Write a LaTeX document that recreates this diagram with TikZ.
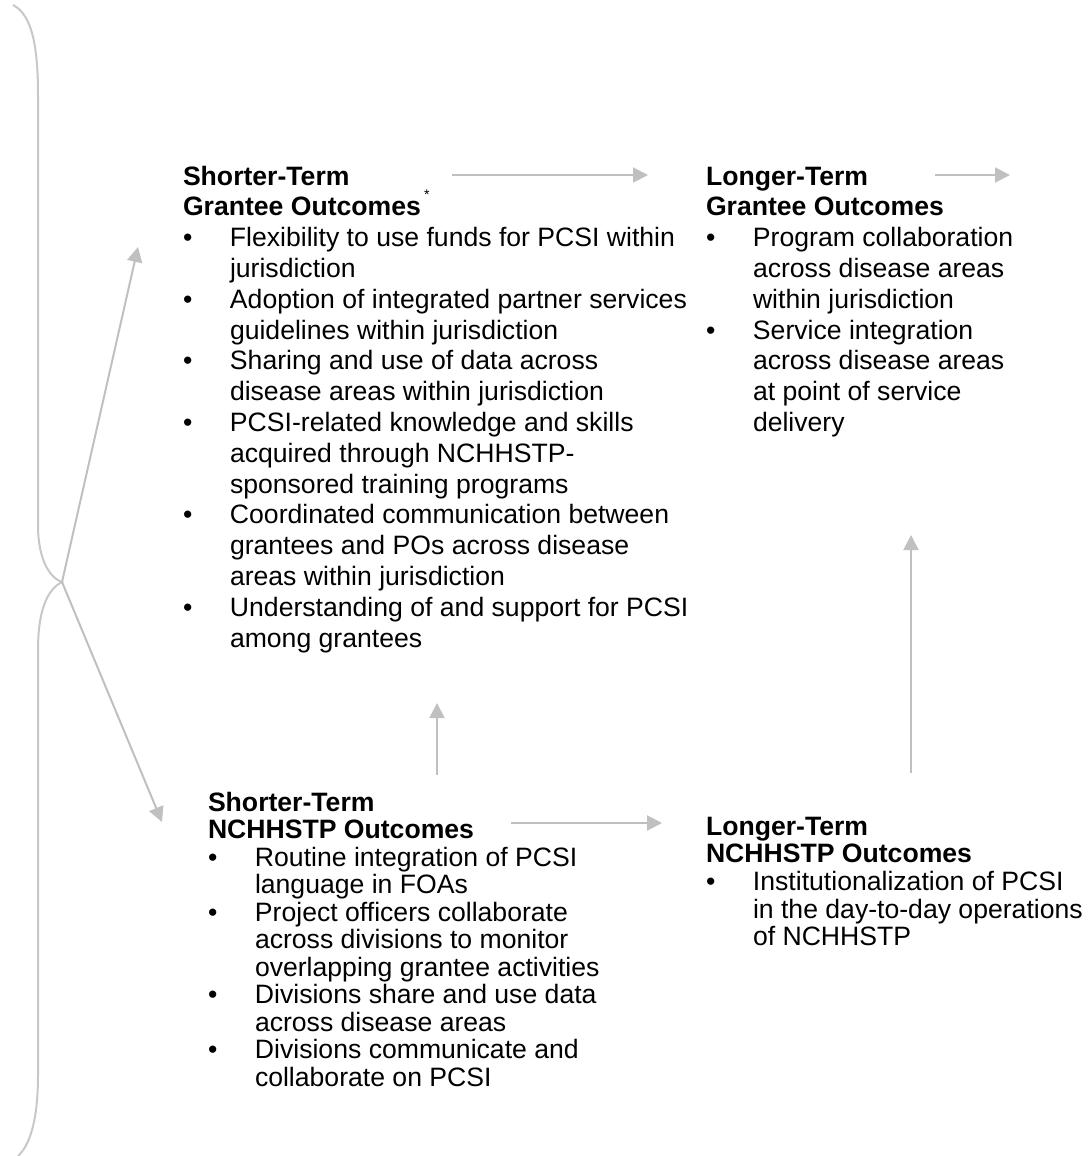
\documentclass[tikz,border=0pt]{standalone}
\usepackage{fontspec}
\setmainfont{Liberation Sans}
\usetikzlibrary{arrows.meta}
\definecolor{arrowgray}{HTML}{C0C0C0}
\definecolor{bracegray}{HTML}{C8C8C8}
\newcommand\bul{\makebox[47pt][l]{\textbullet}}
\newcommand\ind{\hspace*{47pt}}
\newcommand\blk[3]{\parbox[t]{#1pt}{\fontsize{26.6}{#2}\selectfont\raggedright #3}}
\begin{document}
\begin{tikzpicture}[x=1pt,y=-1pt,
  conn/.style={draw=arrowgray, line width=2pt, -{Triangle[length=15pt,width=15pt]}},
  block/.style={anchor=base west, inner sep=0pt, outer sep=0pt}]
\useasboundingbox (0,0) rectangle (1090,1156);

% brace
\coordinate (tip) at (62,582);
\draw[bracegray, line width=2pt] (13,5) .. controls (33,15) and (38,50) .. (38,95)
  -- (38,525) .. controls (38,560) and (50,578) .. (tip)
  .. controls (50,588) and (38,605) .. (38,650)
  -- (38,1075) .. controls (38,1120) and (30,1145) .. (18,1156);

% blocks
\node[block] (sg) at (183,185) {\blk{520}{30.8}{\textbf{Shorter-Term}\\
\textbf{Grantee Outcomes}\hspace{3pt}\smash{\raisebox{16pt}{\fontsize{14}{14}\selectfont *}}\\
\bul Flexibility to use funds for PCSI within\\
\ind jurisdiction\\
\bul Adoption of integrated partner services\\
\ind guidelines within jurisdiction\\
\bul Sharing and use of data across\\
\ind disease areas within jurisdiction\\
\bul PCSI-related knowledge and skills\\
\ind acquired through NCHHSTP-\\
\ind sponsored training programs\\
\bul Coordinated communication between\\
\ind grantees and POs across disease\\
\ind areas within jurisdiction\\
\bul Understanding of and support for PCSI\\
\ind among grantees}};

\node[block] (lg) at (706,185) {\blk{380}{30.8}{\textbf{Longer-Term}\\
\textbf{Grantee Outcomes}\\
\bul Program collaboration\\
\ind across disease areas\\
\ind within jurisdiction\\
\bul Service integration\\
\ind across disease areas\\
\ind at point of service\\
\ind delivery}};

\node[block] (sn) at (208,811) {\blk{480}{27.5}{\textbf{Shorter-Term}\\
\textbf{NCHHSTP Outcomes}\\
\bul Routine integration of PCSI\\
\ind language in FOAs\\
\bul Project officers collaborate\\
\ind across divisions to monitor\\
\ind overlapping grantee activities\\
\bul Divisions share and use data\\
\ind across disease areas\\
\bul Divisions communicate and\\
\ind collaborate on PCSI}};

\node[block] (ln) at (706,835) {\blk{384}{27.7}{\textbf{Longer-Term}\\
\textbf{NCHHSTP Outcomes}\\
\bul Institutionalization of PCSI\\
\ind in the day-to-day operations\\
\ind of NCHHSTP}};

% arrow end points
\coordinate (a1s) at (452,175); \coordinate (a1e) at (648,175);
\coordinate (a2s) at (935,175); \coordinate (a2e) at (1010,175);
\coordinate (a3s) at (437,775); \coordinate (a3e) at (437,703);
\coordinate (a4s) at (511,823); \coordinate (a4e) at (662,823);
\coordinate (a5s) at (911,773); \coordinate (a5e) at (911,535);
\coordinate (dup) at (138,247); \coordinate (ddn) at (162,822);

\draw[conn] (a1s) -- (a1e);
\draw[conn] (a2s) -- (a2e);
\draw[conn] (a3s) -- (a3e);
\draw[conn] (a4s) -- (a4e);
\draw[conn] (a5s) -- (a5e);
\draw[conn] (tip) -- (dup);
\draw[conn] (tip) -- (ddn);
\end{tikzpicture}
\end{document}
